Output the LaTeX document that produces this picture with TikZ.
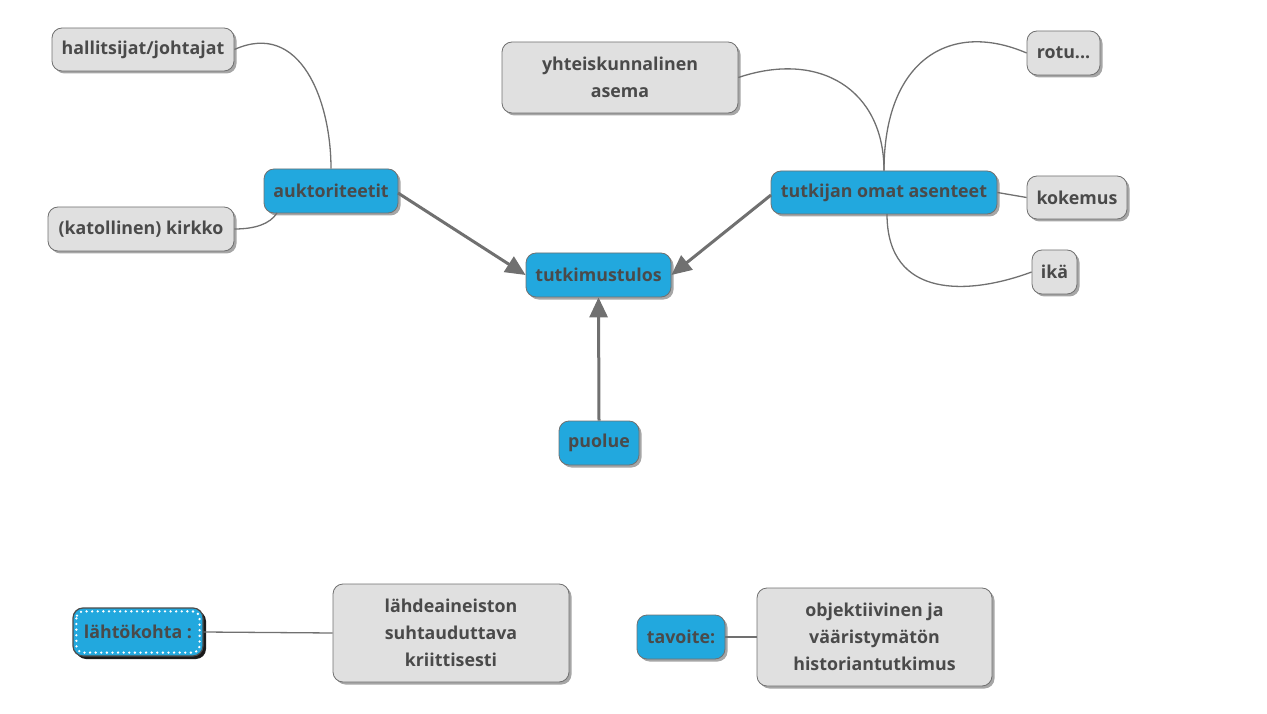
\documentclass[tikz,border=0pt]{standalone}
\usepackage{fontspec}
\setmainfont{Open Sans}
\usetikzlibrary{shadows,arrows.meta}
\definecolor{nblue}{HTML}{22A8DE}
\definecolor{ngray}{HTML}{E0E0E0}
\definecolor{edge}{HTML}{707070}
\definecolor{txt}{HTML}{4A4A4A}
\tikzset{
  base/.style={rounded corners=10pt, draw=edge, line width=0.8pt, text=txt,
    font=\fontsize{17.8}{27}\selectfont\bfseries, align=center, inner sep=0pt,
    drop shadow={shadow xshift=2.5pt, shadow yshift=-2.5pt, opacity=0.35, fill=black}},
  graybox/.style={base, fill=ngray},
  bluebox/.style={base, fill=nblue},
  link/.style={draw=edge, line width=1.3pt},
  bigarrow/.style={draw=edge, line width=3pt, -{Triangle[length=20pt, width=18pt]}},
  whitedots/.style={draw=white, line width=2.6pt, dash pattern=on 0pt off 5.6pt, line cap=round, rounded corners=7pt},
}
\begin{document}
\begin{tikzpicture}[x=1pt,y=-1pt]
\useasboundingbox (0,0) rectangle (1267,714);
% nodes
\node[graybox, minimum width=182pt, minimum height=43pt] (hal) at (143,49.5) {hallitsijat/johtajat};
\node[graybox, minimum width=186pt, minimum height=44pt] (kir) at (141,229) {(katollinen) kirkko};
\node[bluebox, minimum width=134pt, minimum height=44pt] (auk) at (331,191) {auktoriteetit};
\node[graybox, minimum width=236pt, minimum height=71pt] (yht) at (620,77.5) {yhteiskunnalinen\\asema};
\node[graybox, minimum width=73pt, minimum height=44pt] (rot) at (1063.5,53) {rotu...};
\node[bluebox, minimum width=226pt, minimum height=43pt] (tut) at (884,192.5) {tutkijan omat asenteet};
\node[graybox, minimum width=100pt, minimum height=43pt] (kok) at (1077,197.5) {kokemus};
\node[graybox, minimum width=45pt, minimum height=44pt] (ika) at (1054.5,272) {ikä};
\node[bluebox, minimum width=145pt, minimum height=44pt] (tul) at (598.5,275) {tutkimustulos};
\node[bluebox, minimum width=80pt, minimum height=44pt] (puo) at (599,443) {puolue};
\node[bluebox, minimum width=130pt, minimum height=48pt, draw=black!70, line width=1.2pt,
  drop shadow={shadow xshift=3pt, shadow yshift=-3pt, opacity=0.85, fill=black}] (lah) at (138,632) {lähtökohta :};
\draw[whitedots] ([xshift=4pt,yshift=-4pt]lah.north west) rectangle ([xshift=-4pt,yshift=4pt]lah.south east);
\node[graybox, minimum width=236pt, minimum height=98pt] (lds) at (451,633) {lähdeaineiston\\suhtauduttava\\kriittisesti};
\node[bluebox, minimum width=88pt, minimum height=44pt] (tav) at (681,637) {tavoite:};
\node[graybox, minimum width=235pt, minimum height=98pt] (obj) at (874.5,637) {objektiivinen ja\\vääristymätön\\historiantutkimus};
% anchor points on boxes
\coordinate (kirend) at (277,213);
\coordinate (ikaend) at (887,214);
% thin links
\draw[link] (hal.east) .. controls (300,20) and (331,100) .. (auk.north);
\draw[link] (kir.east) .. controls (255,229) and (270,224) .. (kirend);
\draw[link] (yht.east) .. controls (820,50) and (884,90) .. (tut.north);
\draw[link] (rot.west) .. controls (950,20) and (884,60) .. (tut.north);
\draw[link] (tut.east) -- (kok.west);
\draw[link] (ika.west) .. controls (970,295) and (887,300) .. (ikaend);
\draw[link] (lah.east) -- (lds.west);
\draw[link] (tav.east) -- (obj.west);
% arrows
\coordinate (aukout) at (398,193);
\coordinate (tutout) at (771,195);
\draw[bigarrow] (aukout) -- (tul.west);
\draw[bigarrow] (tutout) -- (tul.east);
\draw[bigarrow] (puo.north) -- (tul.south);
\end{tikzpicture}
\end{document}
